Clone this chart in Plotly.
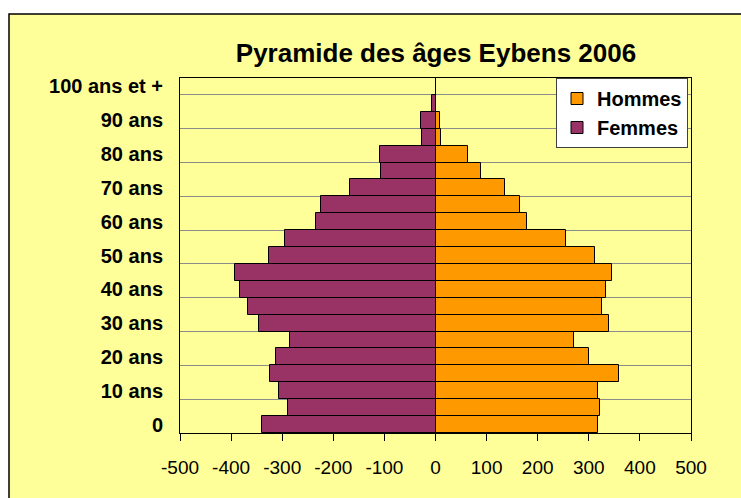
import plotly.graph_objects as go

# Age groups (5-year bands), bottom to top
tranches = ["0", "5 ans", "10 ans", "15 ans", "20 ans", "25 ans", "30 ans", "35 ans",
            "40 ans", "45 ans", "50 ans", "55 ans", "60 ans", "65 ans", "70 ans",
            "75 ans", "80 ans", "85 ans", "90 ans", "95 ans", "100 ans et +"]

hommes = [318, 322, 318, 359, 301, 272, 340, 326, 333, 346, 312, 256,
          179, 166, 136, 90, 64, 10, 8, 0, 0]
femmes = [340, 288, 306, 324, 313, 285, 346, 367, 382, 393, 325, 294,
          233, 224, 167, 107, 109, 26, 28, 6, 0]

x_ticks = [-500, -400, -300, -200, -100, 0, 100, 200, 300, 400, 500]
x_ticktext = [str(v) for v in x_ticks]

YELLOW = "#FFFF99"
ORANGE = "#FF9900"
PURPLE = "#993366"
FONT = "Liberation Sans, Arial, sans-serif"

idx = list(range(len(tranches)))
label_idx = idx[::2]
label_text = [tranches[i] for i in label_idx]
grid_pos = [i + 0.5 for i in idx[1:-1:2]]

fig = go.Figure()
fig.add_trace(go.Bar(
    name="Hommes", y=idx, x=hommes, orientation="h",
    marker=dict(color=ORANGE, line=dict(color="black", width=1)),
))
fig.add_trace(go.Bar(
    name="Femmes", y=idx, x=[-v for v in femmes], orientation="h",
    marker=dict(color=PURPLE, line=dict(color="black", width=1)),
))

W, H = 741, 498
ml, mt = 180, 78
mr = W - 691
mb = H - 433
pw, ph = W - ml - mr, H - mt - mb

def px2x(p):  # screen px -> paper x
    return (p - ml) / pw

def py2y(p):  # screen px -> paper y
    return (H - mb - p) / ph

fig.add_shape(type="rect", xref="paper", yref="paper",
              x0=px2x(9), x1=px2x(790), y0=py2y(560), y1=py2y(14),
              fillcolor=YELLOW, line=dict(color="black", width=1.5), layer="below")

fig.update_layout(
    width=W, height=H,
    margin=dict(l=ml, r=mr, t=mt, b=mb, pad=0),
    paper_bgcolor="white",
    plot_bgcolor=YELLOW,
    barmode="relative",
    bargap=0,
    font=dict(family=FONT, color="black"),
    title=dict(text="<b>Pyramide des âges Eybens 2006</b>",
               font=dict(family=FONT, size=26, color="black"),
               x=436 / W, xanchor="center",
               y=1 - 53 / H, yanchor="middle", yref="container"),
    showlegend=True,
    legend=dict(x=px2x(556), y=py2y(78), xanchor="left", yanchor="top",
                bgcolor="white", bordercolor="#404040", borderwidth=1,
                font=dict(family=FONT, size=20, color="black", weight="bold"),
                itemwidth=30, traceorder="normal"),
    xaxis=dict(range=[-500, 500], tickmode="array", tickvals=x_ticks, ticktext=x_ticktext,
               showgrid=False, zeroline=True, zerolinecolor="black", zerolinewidth=1,
               showline=True, linecolor="black", linewidth=1, mirror=True,
               ticks="outside", ticklen=7, tickcolor="black",
               tickfont=dict(family=FONT, size=19, color="black"),
               ticklabelstandoff=10, fixedrange=True),
    yaxis=dict(range=[-0.5, len(tranches) - 0.5], tickmode="array",
               tickvals=label_idx, ticktext=label_text,
               showgrid=False, zeroline=False,
               showline=True, linecolor="black", linewidth=1, mirror=True,
               ticks="", tickfont=dict(family=FONT, size=20, color="black", weight="bold"),
               ticklabelstandoff=12,
               minor=dict(tickmode="array", tickvals=grid_pos, showgrid=True,
                          gridcolor="#8c8c8c", gridwidth=1, ticks=""),
               fixedrange=True),
)

fig.write_html(
    "out.html",
    config={"displayModeBar": False},
    post_script=("document.body.style.margin='0';"
                 "document.body.style.overflow='hidden';"
                 "document.documentElement.style.overflow='hidden';"),
)
